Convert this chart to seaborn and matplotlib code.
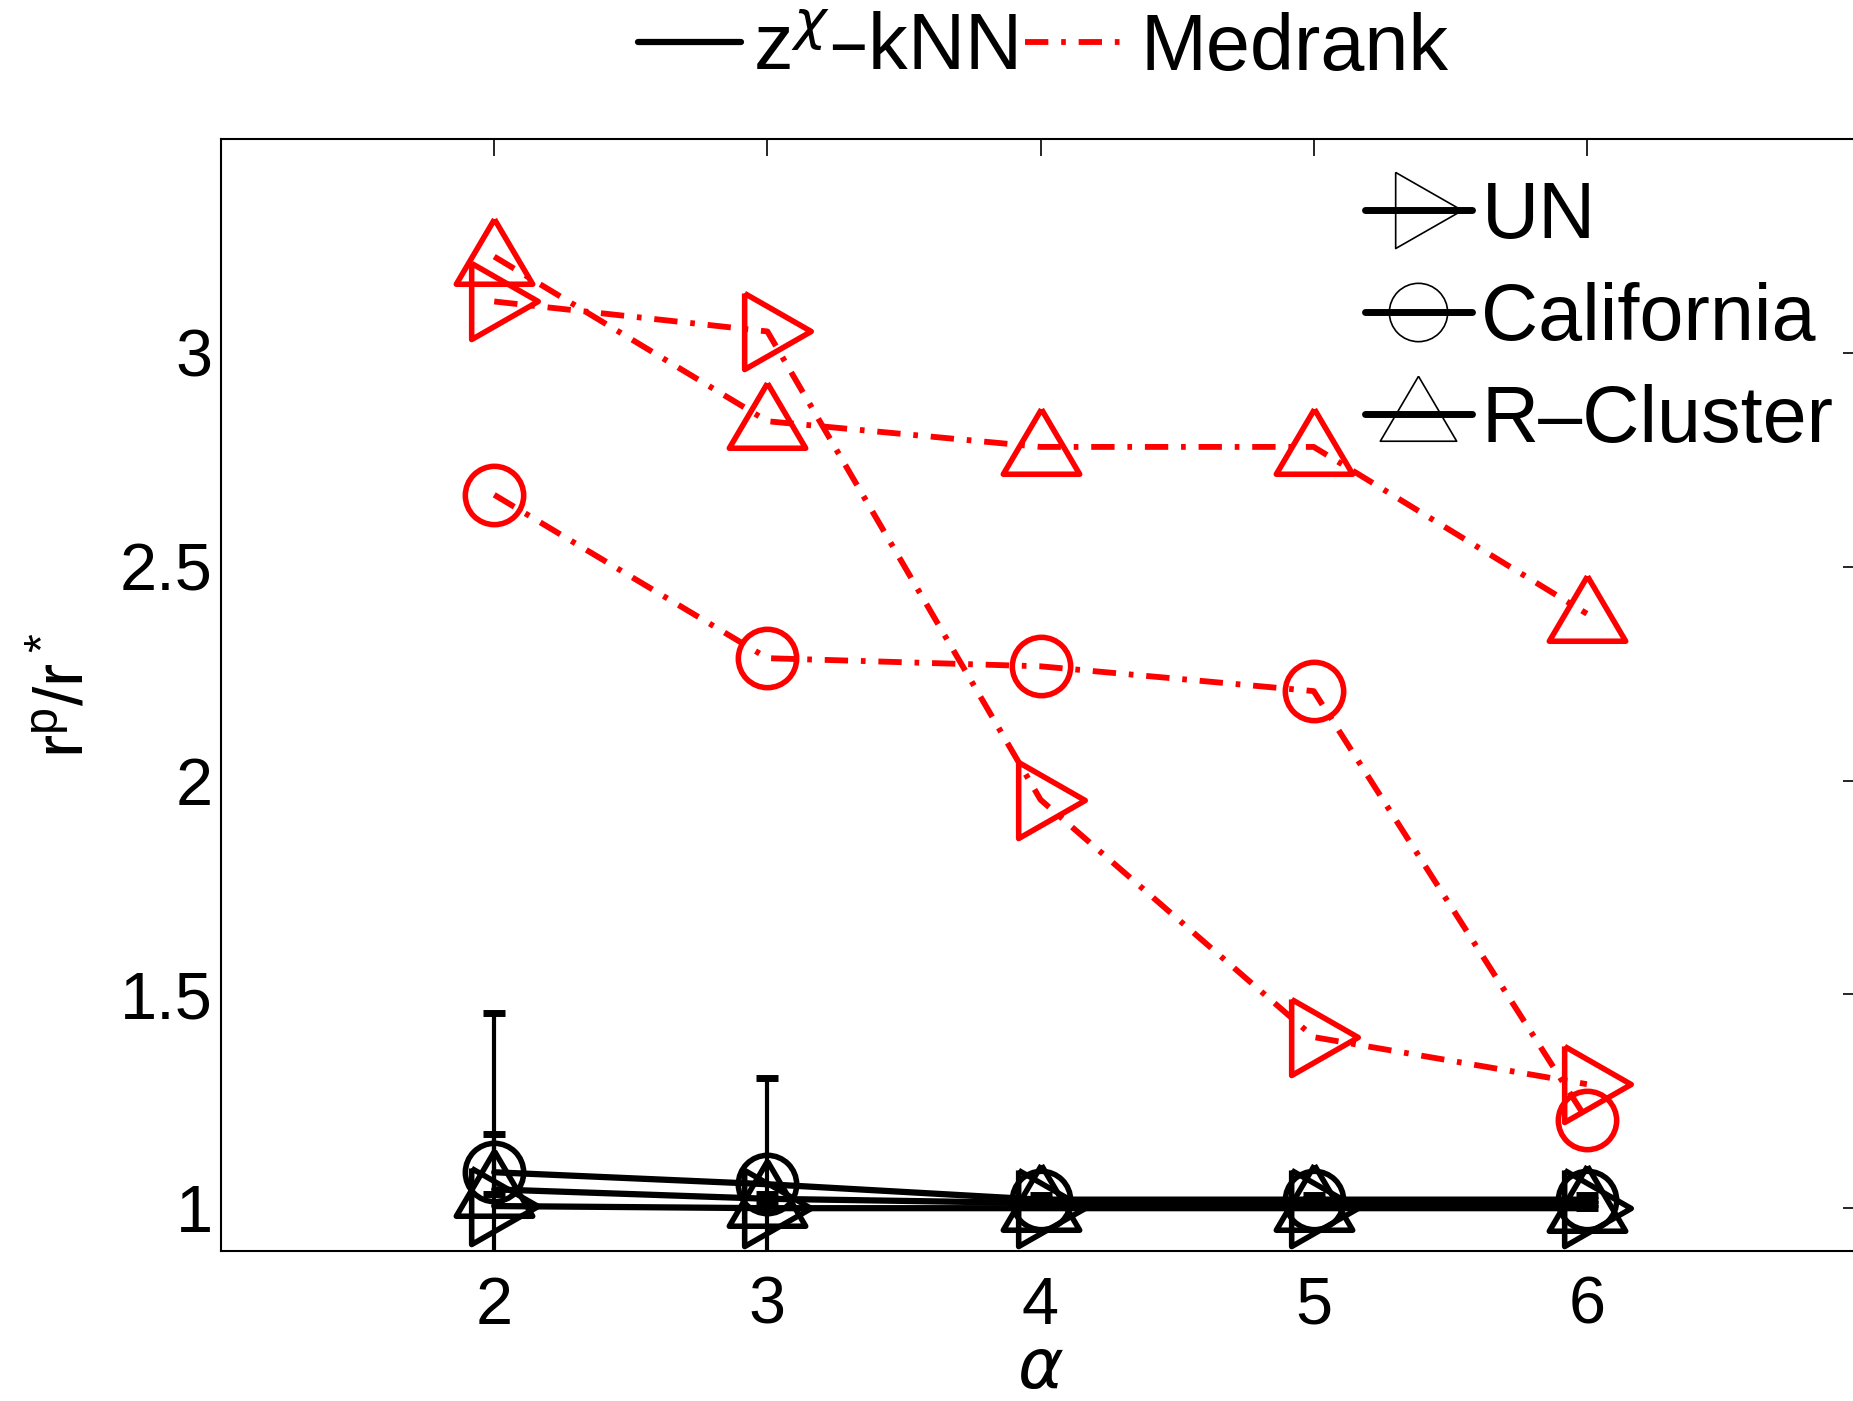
import matplotlib
matplotlib.use("Agg")
import matplotlib.pyplot as plt
from matplotlib.lines import Line2D
import pandas as pd
import seaborn as sns

# x axis values
alpha = [2, 3, 4, 5, 6]
datasets = ["UN", "California", "R–Cluster"]

# z^chi-kNN (black, solid)
zknn_un = [1.005, 1.0, 1.0, 1.0, 1.0]
zknn_cal = [1.084, 1.056, 1.02, 1.02, 1.02]
zknn_rc = [1.044, 1.022, 1.012, 1.012, 1.01]
zknn_cal_err = [0.372, 0.248, 0.01, 0.01, 0.01]
zknn_rc_err = [0.13, 0.01, 0.01, 0.01, 0.01]

# Medrank (red, dash-dot)
med_un = [3.12, 3.05, 1.955, 1.40, 1.29]
med_cal = [2.668, 2.286, 2.267, 2.209, 1.207]
med_rc = [3.225, 2.84, 2.78, 2.78, 2.39]

ytick_vals = [1, 1.5, 2, 2.5, 3]
ytick_labels = ["1", "1.5", "2", "2.5", "3"]

# matlab-like markers (triangles not centred on the point)
tri_right = [(-0.6, 1.0), (1.15, 0.0), (-0.6, -1.0), (-0.6, 1.0)]
tri_up = [(0.0, 1.0), (1.0, -0.7), (-1.0, -0.7), (0.0, 1.0)]
markers = {"UN": tri_right, "California": "o", "R–Cluster": tri_up}
msizes = {"UN": 63, "California": 42, "R–Cluster": 55}

sns.set_style("white")
plt.rcParams['font.family'] = ['Liberation Sans', 'DejaVu Sans']
plt.rcParams['mathtext.fontset'] = 'dejavusans'
plt.rcParams['text.color'] = 'black'
plt.rcParams['axes.labelcolor'] = 'black'

df = pd.DataFrame({
    "alpha": alpha * 6,
    "val": zknn_un + zknn_cal + zknn_rc + med_un + med_cal + med_rc,
    "method": ["zknn"] * 15 + ["med"] * 15,
    "data": (["UN"] * 5 + ["California"] * 5 + ["R–Cluster"] * 5) * 2,
})

fig = plt.figure(figsize=(18.53, 14.01), dpi=100)
ax = fig.add_axes([0.1193, 0.1071, 0.8845, 0.7937])

dashdot = (0, (4, 2.2, 0.8, 2.2))

# black lines
for d in datasets:
    sub = df[(df.method == "zknn") & (df.data == d)]
    sns.lineplot(data=sub, x="alpha", y="val", ax=ax, color="black",
                 linewidth=4.5, marker=markers[d], markersize=msizes[d],
                 markerfacecolor="none", markeredgecolor="black",
                 markeredgewidth=4, legend=False, zorder=3)

ax.errorbar(alpha, zknn_cal, yerr=zknn_cal_err, fmt="none", ecolor="black",
            elinewidth=3, capsize=8, capthick=5, zorder=3)
ax.errorbar(alpha, zknn_rc, yerr=[[0.01] * 5, zknn_rc_err], fmt="none",
            ecolor="black", elinewidth=3, capsize=8, capthick=5, zorder=3)

# red lines
for d in datasets:
    sub = df[(df.method == "med") & (df.data == d)]
    sns.lineplot(data=sub, x="alpha", y="val", ax=ax, color="red",
                 linewidth=4.2, linestyle=dashdot, marker=markers[d],
                 markersize=msizes[d], markerfacecolor="none",
                 markeredgecolor="red", markeredgewidth=4,
                 legend=False, zorder=4)

ax.set_xlim(1, 7)
ax.set_ylim(0.9, 3.5)
ax.set_xticks(alpha)
ax.set_xticklabels([str(a) for a in alpha])
ax.set_yticks(ytick_vals)
ax.set_yticklabels(ytick_labels)
ax.tick_params(direction="in", length=12, width=1.2, top=True, right=True,
               labelsize=48, colors="black")
ax.tick_params(axis="x", pad=18)
ax.tick_params(axis="y", pad=6)
for s in ax.spines.values():
    s.set_visible(True)
    s.set_color("black")
    s.set_linewidth(1.5)

ax.set_xlabel(r"$\alpha$", fontsize=50, labelpad=0)
ax.set_ylabel(r"$\mathregular{r^p/r^*}$", fontsize=50, labelpad=16)

# inner legend: datasets
h_data = [Line2D([], [], color="black", linewidth=5, marker=markers[d],
                 markersize=msizes[d], markerfacecolor="none",
                 markeredgecolor="black", markeredgewidth=1.2)
          for d in datasets]
ax.legend(h_data, datasets, loc="upper left",
          bbox_to_anchor=(1365 / 1853, 1 - 180 / 1401),
          bbox_transform=fig.transFigure, frameon=False, fontsize=57,
          handlelength=1.35, handletextpad=0.12, labelspacing=0.34,
          borderpad=0, borderaxespad=0)

# top legend: methods
h_meth = [Line2D([], [], color="black", linewidth=4.5),
          Line2D([], [], color="red", linewidth=4.2, linestyle=dashdot)]
fig.legend(h_meth, [r"z$^{\chi}$–kNN", "Medrank"], loc="center",
           bbox_to_anchor=(0.563, 0.965), ncol=2, frameon=False, fontsize=57,
           handlelength=1.3, handletextpad=0.15, columnspacing=0.1,
           borderpad=0)

fig.savefig("out.png", dpi=100)
